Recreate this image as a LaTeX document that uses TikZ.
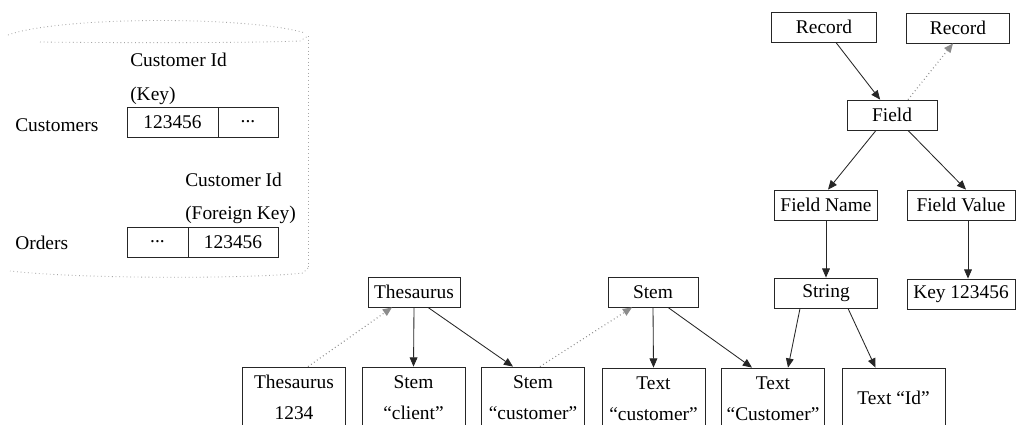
\documentclass[tikz,border=0pt]{standalone}
\usepackage{fontspec}
\setmainfont{Liberation Serif}
\usetikzlibrary{arrows.meta,calc}
\begin{document}
\begin{tikzpicture}[x=0.025cm,y=-0.025cm,
  font=\fontsize{13.8}{16}\selectfont,
  box/.style={draw=black!85,line width=0.6pt,inner sep=0pt,minimum height=30*0.025cm},
  lowbox/.style={draw=black!85,line width=0.6pt,inner sep=0pt,minimum width=103*0.025cm,minimum height=80*0.025cm},
  cell/.style={draw=black!85,line width=0.6pt,inner sep=0pt,minimum height=30*0.025cm},
  lbl/.style={inner sep=0pt},
  link/.style={line width=0.6pt,draw=black!85,-{Triangle[length=6.5pt,width=5.5pt]}},
  ref/.style={link,draw=black!45,dotted,line width=0.8pt},
  tank/.style={draw=black!35,line width=0.6pt,dotted}]
\clip (0,0) rectangle (1024,424);
\useasboundingbox (0,0) rectangle (1024,424);
\fill[white] (0,0) rectangle (1024,424);

% relational store outline
\draw[tank] (8,35) .. controls (60,16) and (250,16) .. (305,33);
\draw[tank] (40,42) .. controls (120,43) and (250,43) .. (300,41) -- (308,36);
\draw[tank] (308,36) -- (308,268);
\draw[tank] (308,268) -- (303,273) .. controls (250,279) and (80,279) .. (10,271);

% tables
\node[lbl,anchor=west] (t1) at (130,60) {Customer Id};
\node[lbl,anchor=west] (t2) at (130,96) {(Key)};
\node[lbl,anchor=west] (cust) at (15,125) {Customers};
\node[cell,minimum width=91*0.025cm] (c1a) at (172.5,122) {123456};
\node[cell,minimum width=60*0.025cm] (c1b) at (248,122) {...};
\node[lbl,anchor=west] (t3) at (185,180) {Customer Id};
\node[lbl,anchor=west] (t4) at (185,215) {(Foreign Key)};
\node[lbl,anchor=west] (ord) at (15,243) {Orders};
\node[cell,minimum width=61*0.025cm] (c2a) at (157.5,242) {...};
\node[cell,minimum width=90*0.025cm] (c2b) at (233,242) {123456};

% record tree
\node[box,minimum width=105*0.025cm] (rec1) at (824,27) {Record};
\node[box,minimum width=103*0.025cm] (rec2) at (958,28) {Record};
\node[box,minimum width=90*0.025cm] (field) at (892,115) {Field};
\node[box,minimum width=103*0.025cm] (fname) at (826,205) {Field Name};
\node[box,minimum width=108*0.025cm] (fval) at (961,205) {Field Value};
\node[box,minimum width=103*0.025cm] (string) at (826,293) {String};
\node[box,minimum width=108*0.025cm] (key) at (961,294) {Key 123456};
\node[box,minimum width=92*0.025cm] (thes) at (414,292) {Thesaurus};
\node[box,minimum width=90*0.025cm] (stem) at (653,292) {Stem};

% lower row
\node[lowbox] (b1) at (294,407) {};
\node[lbl] (b1a) at (294,382) {Thesaurus};
\node[lbl] (b1b) at (294,413) {1234};
\node[lowbox] (b2) at (413.5,407) {};
\node[lbl] (b2a) at (413.5,382) {Stem};
\node[lbl] (b2b) at (413.5,413) {“client”};
\node[lowbox] (b3) at (533,407) {};
\node[lbl] (b3a) at (533,382) {Stem};
\node[lbl] (b3b) at (533,413) {“customer”};
\node[lowbox] (b4) at (653.5,408) {};
\node[lbl] (b4a) at (653.5,383) {Text};
\node[lbl] (b4b) at (653.5,414) {“customer”};
\node[lowbox] (b5) at (773,408) {};
\node[lbl] (b5a) at (773,383) {Text};
\node[lbl] (b5b) at (773,414) {“Customer”};
\node[lowbox] (b6) at (893.5,408) {};
\node[lbl] (b6a) at (893.5,398) {Text “Id”};

% connectors
\draw[link] (rec1) -- (field);
\draw[ref] ($(field.north)+(16,0)$) -- ($(rec2.south)+(-5,0)$);
\draw[link] ($(field.south)+(-16,0)$) -- ($(fname.north)+(2,0)$);
\draw[link] ($(field.south)+(16,0)$) -- ($(fval.north)+(5,0)$);
\draw[link] (fname.south) -- (string.north);
\draw[link] ($(fval.south)+(7,0)$) -- ($(key.north)+(7,0)$);
\draw[ref] ($(b1.north)+(14,0)$) -- ($(thes.south)+(-22,0)$);
\draw[link] (thes.south) -- (b2.north);
\draw[link] ($(thes.south)+(14,0)$) -- ($(b3.north)+(-20,0)$);
\draw[ref] ($(b3.north)+(7,0)$) -- ($(stem.south)+(-21,0)$);
\draw[link] (stem.south) -- (b4.north);
\draw[link] ($(stem.south)+(15,0)$) -- ($(b5.north)+(-21,0)$);
\draw[link] ($(string.south)+(-26,0)$) -- ($(b5.north)+(15,0)$);
\draw[link] ($(string.south)+(22,0)$) -- ($(b6.north)+(-18,0)$);
\end{tikzpicture}
\end{document}
